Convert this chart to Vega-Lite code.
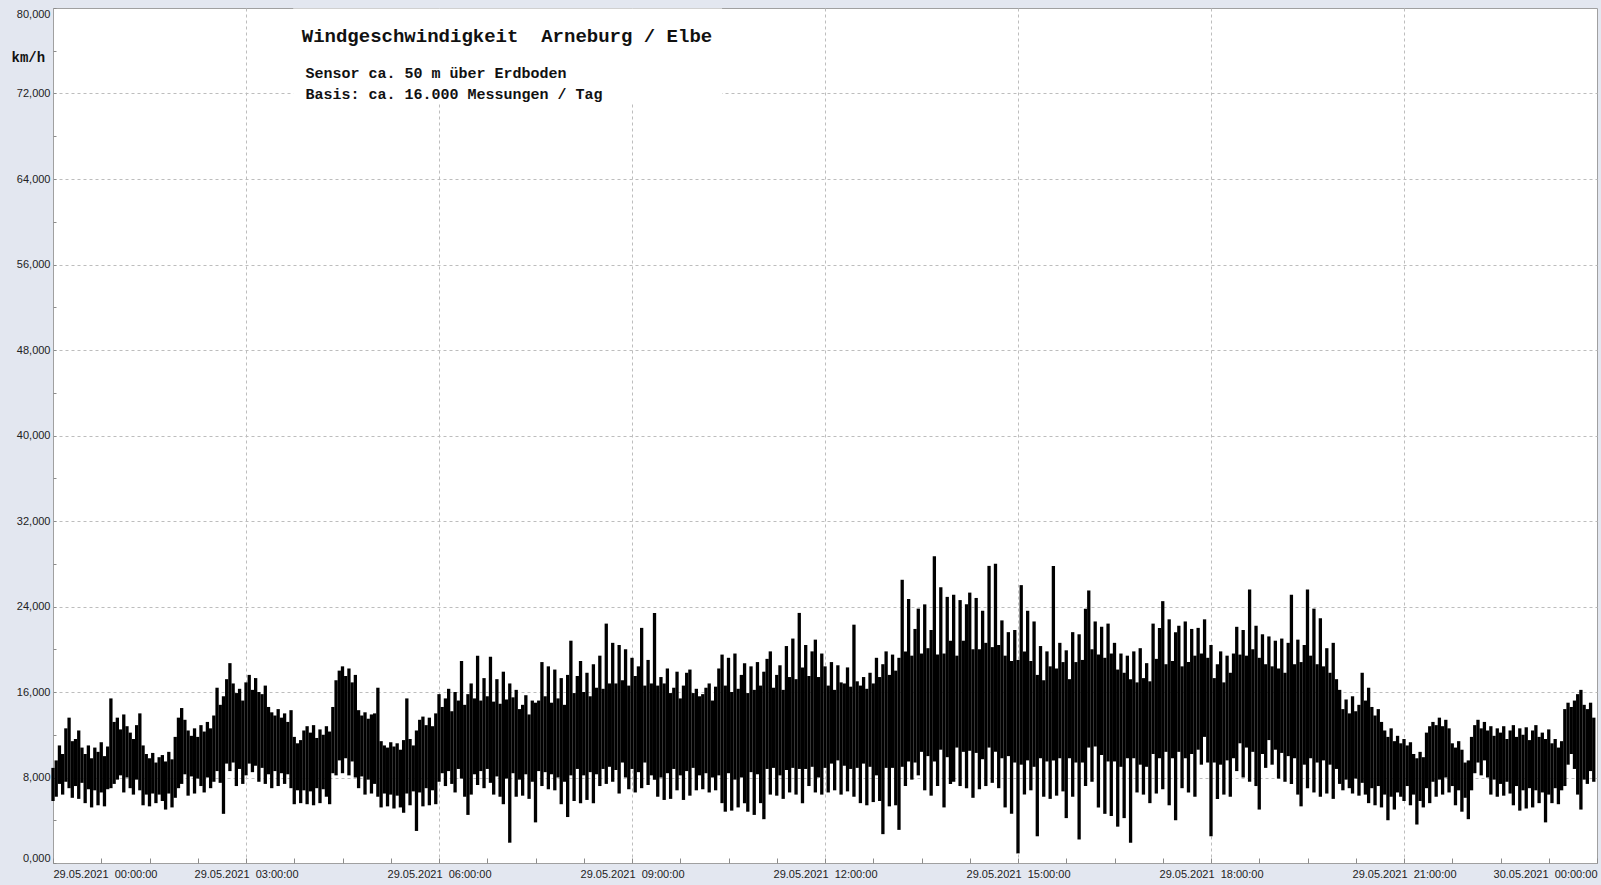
{
"$schema": "https://vega.github.io/schema/vega-lite/v6.json",
"width": 1544, "height": 855,
"autosize": {"type": "none"},
"padding": {"left": 53, "top": 8, "right": 4, "bottom": 22},
"background": "#E3E7F0",
"config": {
  "view": {"fill": "#FFFFFF", "stroke": "#A0A0A0", "strokeWidth": 1},
  "axis": {"labelFont": "Liberation Sans", "labelFontSize": 11, "labelColor": "#222222", "domain": false, "tickColor": "#8C8C8C", "gridColor": "#BDBDBD", "gridDash": [3, 3], "gridWidth": 1}
},
"layer": [
{
  "data": {"values": [
{"m":0,"a":5.8,"b":8.9},{"m":3,"a":6.2,"b":9.6},{"m":6,"a":7.4,"b":11.0},{"m":9,"a":6.4,"b":10.2},{"m":12,"a":7.6,"b":12.6},{"m":15,"a":7.0,"b":13.6},{"m":18,"a":6.1,"b":11.4},{"m":21,"a":7.2,"b":11.6},{"m":24,"a":6.0,"b":12.4},{"m":27,"a":7.5,"b":10.8},
{"m":30,"a":5.6,"b":10.2},{"m":33,"a":6.9,"b":11.0},{"m":36,"a":5.2,"b":9.8},{"m":39,"a":6.8,"b":10.8},{"m":42,"a":5.4,"b":10.4},{"m":45,"a":6.6,"b":11.3},{"m":48,"a":5.3,"b":10.0},{"m":51,"a":6.9,"b":10.9},{"m":54,"a":7.0,"b":15.4},{"m":57,"a":7.4,"b":13.2},
{"m":60,"a":7.8,"b":13.6},{"m":63,"a":8.2,"b":12.5},{"m":66,"a":6.6,"b":13.9},{"m":69,"a":8.0,"b":12.8},{"m":72,"a":7.0,"b":12.2},{"m":75,"a":6.4,"b":11.6},{"m":78,"a":7.8,"b":12.9},{"m":81,"a":6.8,"b":14.0},{"m":84,"a":5.4,"b":11.0},{"m":87,"a":6.4,"b":10.2},
{"m":90,"a":5.3,"b":9.8},{"m":93,"a":6.5,"b":10.3},{"m":96,"a":5.6,"b":9.4},{"m":99,"a":6.4,"b":9.9},{"m":102,"a":5.8,"b":10.1},{"m":105,"a":5.0,"b":9.5},{"m":108,"a":6.5,"b":10.4},{"m":111,"a":5.2,"b":9.7},{"m":114,"a":6.1,"b":11.8},{"m":117,"a":7.0,"b":13.6},
{"m":120,"a":7.4,"b":14.5},{"m":123,"a":8.3,"b":13.4},{"m":126,"a":6.3,"b":12.4},{"m":129,"a":8.1,"b":11.9},{"m":132,"a":6.5,"b":12.6},{"m":135,"a":7.9,"b":11.8},{"m":138,"a":7.2,"b":12.9},{"m":141,"a":6.6,"b":12.3},{"m":144,"a":8.0,"b":13.2},{"m":147,"a":7.0,"b":12.6},
{"m":150,"a":7.6,"b":13.8},{"m":153,"a":8.6,"b":16.4},{"m":156,"a":7.5,"b":14.8},{"m":159,"a":4.6,"b":15.6},{"m":162,"a":9.3,"b":17.2},{"m":165,"a":8.6,"b":18.7},{"m":168,"a":9.4,"b":16.8},{"m":171,"a":7.2,"b":15.9},{"m":174,"a":8.8,"b":16.3},{"m":177,"a":7.4,"b":15.2},
{"m":180,"a":8.2,"b":16.9},{"m":183,"a":9.3,"b":17.6},{"m":186,"a":8.5,"b":16.2},{"m":189,"a":9.1,"b":17.3},{"m":192,"a":7.6,"b":16.0},{"m":195,"a":8.9,"b":15.8},{"m":198,"a":7.4,"b":16.6},{"m":201,"a":8.3,"b":14.6},{"m":204,"a":7.0,"b":14.1},{"m":207,"a":8.6,"b":13.8},
{"m":210,"a":7.2,"b":14.4},{"m":213,"a":8.4,"b":13.6},{"m":216,"a":7.4,"b":14.0},{"m":219,"a":8.3,"b":13.2},{"m":222,"a":7.0,"b":14.3},{"m":225,"a":5.5,"b":11.8},{"m":228,"a":6.8,"b":11.2},{"m":231,"a":5.6,"b":11.5},{"m":234,"a":6.8,"b":12.4},{"m":237,"a":5.5,"b":12.8},
{"m":240,"a":6.7,"b":12.2},{"m":243,"a":5.4,"b":12.9},{"m":246,"a":7.0,"b":11.7},{"m":249,"a":5.6,"b":12.5},{"m":252,"a":6.9,"b":12.0},{"m":255,"a":6.2,"b":12.8},{"m":258,"a":5.5,"b":12.3},{"m":261,"a":8.4,"b":14.6},{"m":264,"a":8.2,"b":17.1},{"m":267,"a":9.6,"b":18.0},
{"m":270,"a":8.4,"b":18.4},{"m":273,"a":9.8,"b":17.5},{"m":276,"a":8.2,"b":18.2},{"m":279,"a":9.5,"b":16.9},{"m":282,"a":8.0,"b":17.6},{"m":285,"a":7.0,"b":14.3},{"m":288,"a":8.1,"b":13.8},{"m":291,"a":6.4,"b":14.1},{"m":294,"a":7.8,"b":13.5},{"m":297,"a":6.5,"b":13.9},
{"m":300,"a":7.4,"b":14.0},{"m":303,"a":6.2,"b":16.4},{"m":306,"a":5.2,"b":11.4},{"m":309,"a":6.5,"b":11.0},{"m":312,"a":5.3,"b":10.8},{"m":315,"a":6.4,"b":11.3},{"m":318,"a":5.1,"b":10.9},{"m":321,"a":6.3,"b":11.2},{"m":324,"a":5.2,"b":10.6},{"m":327,"a":4.7,"b":11.5},
{"m":330,"a":6.5,"b":15.4},{"m":333,"a":5.4,"b":11.6},{"m":336,"a":6.7,"b":11.0},{"m":339,"a":3.0,"b":12.4},{"m":342,"a":6.6,"b":13.4},{"m":345,"a":5.3,"b":13.7},{"m":348,"a":7.0,"b":12.9},{"m":351,"a":5.4,"b":13.6},{"m":354,"a":6.8,"b":12.8},{"m":357,"a":5.5,"b":14.0},
{"m":360,"a":7.6,"b":15.8},{"m":363,"a":8.4,"b":14.6},{"m":366,"a":7.2,"b":15.4},{"m":369,"a":8.6,"b":16.3},{"m":372,"a":7.4,"b":14.2},{"m":375,"a":6.6,"b":16.0},{"m":378,"a":8.8,"b":15.2},{"m":381,"a":7.9,"b":18.9},{"m":384,"a":6.2,"b":14.8},{"m":387,"a":4.5,"b":15.8},
{"m":390,"a":6.4,"b":16.8},{"m":393,"a":8.3,"b":15.4},{"m":396,"a":7.3,"b":19.4},{"m":399,"a":8.6,"b":15.2},{"m":402,"a":7.0,"b":17.3},{"m":405,"a":8.8,"b":15.6},{"m":408,"a":7.5,"b":19.3},{"m":411,"a":6.4,"b":15.1},{"m":414,"a":8.1,"b":17.2},{"m":417,"a":6.2,"b":14.9},
{"m":420,"a":5.5,"b":17.9},{"m":423,"a":7.9,"b":15.3},{"m":426,"a":1.9,"b":16.8},{"m":429,"a":8.4,"b":15.5},{"m":432,"a":6.2,"b":16.2},{"m":435,"a":7.8,"b":14.4},{"m":438,"a":6.3,"b":14.8},{"m":441,"a":8.3,"b":15.7},{"m":444,"a":6.0,"b":13.9},{"m":447,"a":7.6,"b":15.2},
{"m":450,"a":3.8,"b":15.0},{"m":453,"a":8.6,"b":15.2},{"m":456,"a":7.2,"b":18.8},{"m":459,"a":8.5,"b":15.6},{"m":462,"a":6.9,"b":18.4},{"m":465,"a":8.3,"b":15.0},{"m":468,"a":6.8,"b":18.1},{"m":471,"a":8.0,"b":15.4},{"m":474,"a":5.5,"b":17.3},{"m":477,"a":7.6,"b":14.8},
{"m":480,"a":4.3,"b":17.6},{"m":483,"a":8.2,"b":20.8},{"m":486,"a":5.8,"b":15.9},{"m":489,"a":8.8,"b":17.5},{"m":492,"a":5.6,"b":18.9},{"m":495,"a":8.2,"b":16.0},{"m":498,"a":5.9,"b":17.8},{"m":501,"a":8.5,"b":15.6},{"m":504,"a":5.6,"b":18.6},{"m":507,"a":8.3,"b":16.4},
{"m":510,"a":7.2,"b":19.4},{"m":513,"a":8.8,"b":16.3},{"m":516,"a":7.4,"b":22.4},{"m":519,"a":9.0,"b":16.8},{"m":522,"a":7.6,"b":20.6},{"m":525,"a":8.7,"b":16.8},{"m":528,"a":6.5,"b":20.4},{"m":531,"a":9.4,"b":17.1},{"m":534,"a":8.0,"b":20.0},{"m":537,"a":6.9,"b":16.6},
{"m":540,"a":8.8,"b":19.2},{"m":543,"a":6.6,"b":17.5},{"m":546,"a":8.5,"b":18.4},{"m":549,"a":7.0,"b":22.0},{"m":552,"a":9.4,"b":16.6},{"m":555,"a":7.3,"b":19.0},{"m":558,"a":8.2,"b":16.8},{"m":561,"a":7.8,"b":23.4},{"m":564,"a":6.2,"b":16.6},{"m":567,"a":8.0,"b":17.4},
{"m":570,"a":5.9,"b":16.8},{"m":573,"a":8.4,"b":18.2},{"m":576,"a":6.0,"b":15.9},{"m":579,"a":8.8,"b":16.4},{"m":582,"a":6.8,"b":17.9},{"m":585,"a":8.2,"b":15.4},{"m":588,"a":5.9,"b":16.6},{"m":591,"a":8.6,"b":17.8},{"m":594,"a":6.3,"b":18.1},{"m":597,"a":8.9,"b":15.9},
{"m":600,"a":6.8,"b":16.3},{"m":603,"a":8.2,"b":15.6},{"m":606,"a":6.9,"b":15.8},{"m":609,"a":8.4,"b":16.4},{"m":612,"a":6.6,"b":16.8},{"m":615,"a":8.0,"b":15.2},{"m":618,"a":6.8,"b":16.5},{"m":621,"a":8.2,"b":18.2},{"m":624,"a":5.6,"b":19.5},{"m":627,"a":4.8,"b":16.6},
{"m":630,"a":8.4,"b":19.2},{"m":633,"a":4.9,"b":16.0},{"m":636,"a":7.8,"b":19.6},{"m":639,"a":5.2,"b":16.3},{"m":642,"a":8.0,"b":17.6},{"m":645,"a":5.6,"b":18.7},{"m":648,"a":4.8,"b":15.9},{"m":651,"a":8.5,"b":18.4},{"m":654,"a":4.5,"b":16.2},{"m":657,"a":8.3,"b":18.8},
{"m":660,"a":5.6,"b":16.6},{"m":663,"a":4.1,"b":17.9},{"m":666,"a":8.8,"b":19.1},{"m":669,"a":6.4,"b":19.8},{"m":672,"a":8.9,"b":16.4},{"m":675,"a":6.3,"b":17.6},{"m":678,"a":8.2,"b":18.5},{"m":681,"a":6.0,"b":16.2},{"m":684,"a":8.7,"b":20.3},{"m":687,"a":6.6,"b":17.4},
{"m":690,"a":8.9,"b":21.0},{"m":693,"a":6.4,"b":17.2},{"m":696,"a":8.8,"b":23.4},{"m":699,"a":5.6,"b":18.3},{"m":702,"a":8.8,"b":20.4},{"m":705,"a":7.2,"b":17.5},{"m":708,"a":9.0,"b":19.8},{"m":711,"a":6.6,"b":20.9},{"m":714,"a":8.0,"b":17.4},{"m":717,"a":6.4,"b":19.6},
{"m":720,"a":8.9,"b":18.4},{"m":723,"a":6.6,"b":16.6},{"m":726,"a":9.3,"b":18.8},{"m":729,"a":6.8,"b":16.2},{"m":732,"a":9.6,"b":18.5},{"m":735,"a":6.4,"b":16.9},{"m":738,"a":9.1,"b":16.8},{"m":741,"a":6.7,"b":18.3},{"m":744,"a":8.8,"b":16.5},{"m":747,"a":6.2,"b":22.3},
{"m":750,"a":8.9,"b":17.0},{"m":753,"a":5.6,"b":16.6},{"m":756,"a":9.3,"b":17.4},{"m":759,"a":5.4,"b":16.3},{"m":762,"a":9.0,"b":17.8},{"m":765,"a":5.7,"b":16.8},{"m":768,"a":8.2,"b":19.2},{"m":771,"a":5.8,"b":17.4},{"m":774,"a":2.7,"b":18.6},{"m":777,"a":8.9,"b":19.8},
{"m":780,"a":5.3,"b":17.6},{"m":783,"a":8.9,"b":19.5},{"m":786,"a":5.4,"b":18.0},{"m":789,"a":3.1,"b":19.2},{"m":792,"a":9.0,"b":26.5},{"m":795,"a":7.2,"b":19.8},{"m":798,"a":9.5,"b":24.7},{"m":801,"a":7.8,"b":19.4},{"m":804,"a":9.4,"b":21.9},{"m":807,"a":8.2,"b":23.8},
{"m":810,"a":10.4,"b":19.6},{"m":813,"a":6.8,"b":24.2},{"m":816,"a":10.0,"b":20.1},{"m":819,"a":6.3,"b":21.8},{"m":822,"a":9.5,"b":28.7},{"m":825,"a":7.2,"b":19.5},{"m":828,"a":10.6,"b":25.8},{"m":831,"a":5.2,"b":19.6},{"m":834,"a":9.9,"b":24.9},{"m":837,"a":7.4,"b":20.8},
{"m":840,"a":7.6,"b":25.1},{"m":843,"a":10.8,"b":19.4},{"m":846,"a":7.2,"b":24.6},{"m":849,"a":10.4,"b":20.8},{"m":852,"a":7.0,"b":24.2},{"m":855,"a":10.5,"b":25.3},{"m":858,"a":6.1,"b":20.0},{"m":861,"a":10.3,"b":24.8},{"m":864,"a":6.9,"b":20.0},{"m":867,"a":9.7,"b":23.6},
{"m":870,"a":7.2,"b":20.6},{"m":873,"a":10.8,"b":27.8},{"m":876,"a":7.5,"b":20.2},{"m":879,"a":10.4,"b":28.0},{"m":882,"a":7.0,"b":20.4},{"m":885,"a":9.8,"b":22.7},{"m":888,"a":5.2,"b":19.4},{"m":891,"a":10.0,"b":21.6},{"m":894,"a":4.6,"b":18.9},{"m":897,"a":9.4,"b":21.8},
{"m":900,"a":0.9,"b":19.0},{"m":903,"a":9.2,"b":26.0},{"m":906,"a":6.4,"b":19.8},{"m":909,"a":9.6,"b":23.6},{"m":912,"a":6.8,"b":18.9},{"m":915,"a":9.0,"b":22.6},{"m":918,"a":2.5,"b":17.6},{"m":921,"a":9.8,"b":20.3},{"m":924,"a":6.2,"b":17.1},{"m":927,"a":9.5,"b":19.8},
{"m":930,"a":6.0,"b":18.4},{"m":933,"a":9.6,"b":27.8},{"m":936,"a":6.3,"b":18.2},{"m":939,"a":9.8,"b":20.6},{"m":942,"a":6.7,"b":18.8},{"m":945,"a":4.2,"b":19.9},{"m":948,"a":9.8,"b":17.2},{"m":951,"a":6.2,"b":21.6},{"m":954,"a":9.4,"b":18.8},{"m":957,"a":2.2,"b":21.4},
{"m":960,"a":9.4,"b":19.0},{"m":963,"a":7.2,"b":23.8},{"m":966,"a":10.8,"b":25.5},{"m":969,"a":7.6,"b":20.0},{"m":972,"a":10.9,"b":22.6},{"m":975,"a":5.2,"b":19.5},{"m":978,"a":10.1,"b":22.1},{"m":981,"a":4.6,"b":19.2},{"m":984,"a":9.5,"b":22.4},{"m":987,"a":4.4,"b":19.6},
{"m":990,"a":9.5,"b":20.6},{"m":993,"a":3.4,"b":18.1},{"m":996,"a":9.0,"b":19.6},{"m":999,"a":4.2,"b":17.8},{"m":1002,"a":9.8,"b":19.4},{"m":1005,"a":1.9,"b":17.2},{"m":1008,"a":9.8,"b":19.8},{"m":1011,"a":6.6,"b":16.9},{"m":1014,"a":9.2,"b":20.1},{"m":1017,"a":6.4,"b":17.3},
{"m":1020,"a":9.0,"b":18.7},{"m":1023,"a":5.6,"b":17.0},{"m":1026,"a":10.2,"b":22.4},{"m":1029,"a":6.5,"b":19.1},{"m":1032,"a":9.8,"b":22.0},{"m":1035,"a":6.9,"b":24.5},{"m":1038,"a":10.4,"b":18.6},{"m":1041,"a":5.4,"b":22.8},{"m":1044,"a":9.8,"b":18.9},{"m":1047,"a":4.0,"b":21.6},
{"m":1050,"a":10.4,"b":22.2},{"m":1053,"a":7.0,"b":18.4},{"m":1056,"a":9.8,"b":22.6},{"m":1059,"a":6.6,"b":18.8},{"m":1062,"a":10.2,"b":21.9},{"m":1065,"a":6.2,"b":19.4},{"m":1068,"a":10.6,"b":22.0},{"m":1071,"a":9.2,"b":19.6},{"m":1074,"a":11.8,"b":22.8},{"m":1077,"a":9.4,"b":19.2},
{"m":1080,"a":2.5,"b":20.4},{"m":1083,"a":9.4,"b":17.3},{"m":1086,"a":6.0,"b":18.6},{"m":1089,"a":9.2,"b":19.8},{"m":1092,"a":6.4,"b":16.9},{"m":1095,"a":9.6,"b":19.4},{"m":1098,"a":6.2,"b":17.8},{"m":1101,"a":9.8,"b":19.6},{"m":1104,"a":8.6,"b":22.1},{"m":1107,"a":11.2,"b":19.5},
{"m":1110,"a":8.0,"b":21.8},{"m":1113,"a":10.8,"b":19.4},{"m":1116,"a":7.6,"b":25.6},{"m":1119,"a":10.4,"b":20.0},{"m":1122,"a":7.2,"b":22.2},{"m":1125,"a":5.0,"b":19.2},{"m":1128,"a":10.2,"b":21.4},{"m":1131,"a":8.9,"b":18.6},{"m":1134,"a":11.5,"b":21.2},{"m":1137,"a":9.2,"b":18.4},
{"m":1140,"a":10.6,"b":20.8},{"m":1143,"a":7.9,"b":18.2},{"m":1146,"a":10.3,"b":21.0},{"m":1149,"a":7.6,"b":17.8},{"m":1152,"a":10.0,"b":20.6},{"m":1155,"a":7.4,"b":25.1},{"m":1158,"a":9.8,"b":18.6},{"m":1161,"a":6.4,"b":20.9},{"m":1164,"a":5.3,"b":18.8},{"m":1167,"a":9.2,"b":20.4},
{"m":1170,"a":7.0,"b":25.6},{"m":1173,"a":9.8,"b":19.4},{"m":1176,"a":6.6,"b":23.8},{"m":1179,"a":9.4,"b":18.6},{"m":1182,"a":6.2,"b":22.9},{"m":1185,"a":9.6,"b":18.4},{"m":1188,"a":6.5,"b":20.1},{"m":1191,"a":9.2,"b":17.8},{"m":1194,"a":6.0,"b":20.6},{"m":1197,"a":8.8,"b":17.2},
{"m":1200,"a":7.4,"b":16.2},{"m":1203,"a":6.8,"b":14.4},{"m":1206,"a":7.8,"b":15.3},{"m":1209,"a":7.0,"b":14.0},{"m":1212,"a":6.5,"b":15.6},{"m":1215,"a":7.9,"b":14.2},{"m":1218,"a":6.3,"b":14.8},{"m":1221,"a":7.5,"b":17.8},{"m":1224,"a":6.4,"b":15.2},{"m":1227,"a":5.6,"b":16.4},
{"m":1230,"a":7.0,"b":14.6},{"m":1233,"a":5.4,"b":13.8},{"m":1236,"a":7.2,"b":14.4},{"m":1239,"a":5.2,"b":13.2},{"m":1242,"a":6.4,"b":12.4},{"m":1245,"a":4.0,"b":11.8},{"m":1248,"a":6.2,"b":12.6},{"m":1251,"a":5.0,"b":11.4},{"m":1254,"a":6.6,"b":11.9},{"m":1257,"a":6.2,"b":11.2},
{"m":1260,"a":5.8,"b":11.6},{"m":1263,"a":7.2,"b":11.0},{"m":1266,"a":5.4,"b":11.3},{"m":1269,"a":6.4,"b":10.2},{"m":1272,"a":3.6,"b":9.8},{"m":1275,"a":5.8,"b":10.4},{"m":1278,"a":5.2,"b":9.9},{"m":1281,"a":7.0,"b":12.2},{"m":1284,"a":5.6,"b":12.8},{"m":1287,"a":7.6,"b":13.2},
{"m":1290,"a":6.2,"b":12.9},{"m":1293,"a":7.8,"b":13.6},{"m":1296,"a":6.4,"b":12.8},{"m":1299,"a":8.0,"b":13.4},{"m":1302,"a":6.6,"b":12.6},{"m":1305,"a":7.2,"b":11.2},{"m":1308,"a":5.4,"b":10.8},{"m":1311,"a":6.8,"b":11.4},{"m":1314,"a":4.8,"b":10.6},{"m":1317,"a":6.1,"b":9.4},
{"m":1320,"a":4.1,"b":9.6},{"m":1323,"a":6.8,"b":11.8},{"m":1326,"a":8.4,"b":12.9},{"m":1329,"a":9.4,"b":13.4},{"m":1332,"a":8.2,"b":12.6},{"m":1335,"a":9.6,"b":13.2},{"m":1338,"a":8.0,"b":12.4},{"m":1341,"a":6.4,"b":12.8},{"m":1344,"a":7.8,"b":11.9},{"m":1347,"a":6.2,"b":12.6},
{"m":1350,"a":7.4,"b":12.2},{"m":1353,"a":6.3,"b":12.8},{"m":1356,"a":7.6,"b":11.6},{"m":1359,"a":6.5,"b":12.4},{"m":1362,"a":5.4,"b":12.9},{"m":1365,"a":7.2,"b":11.8},{"m":1368,"a":4.9,"b":12.6},{"m":1371,"a":6.8,"b":12.0},{"m":1374,"a":5.1,"b":12.7},{"m":1377,"a":7.0,"b":11.5},
{"m":1380,"a":5.2,"b":12.4},{"m":1383,"a":6.8,"b":12.9},{"m":1386,"a":5.6,"b":11.8},{"m":1389,"a":6.6,"b":12.2},{"m":1392,"a":3.8,"b":11.6},{"m":1395,"a":6.4,"b":12.5},{"m":1398,"a":5.6,"b":11.2},{"m":1401,"a":7.0,"b":11.6},{"m":1404,"a":5.5,"b":10.8},{"m":1407,"a":6.8,"b":11.4},
{"m":1410,"a":7.2,"b":14.4},{"m":1413,"a":9.2,"b":15.0},{"m":1416,"a":10.2,"b":14.6},{"m":1419,"a":8.8,"b":15.2},{"m":1422,"a":6.4,"b":15.8},{"m":1425,"a":5.0,"b":16.2},{"m":1428,"a":7.8,"b":14.8},{"m":1431,"a":7.4,"b":14.4},{"m":1434,"a":8.6,"b":15.0},{"m":1437,"a":7.6,"b":13.6}
  ]},
  "mark": {"type": "rule", "color": "#000000", "strokeWidth": 3.3},
  "encoding": {
    "x": {"field": "m", "type": "quantitative",
      "scale": {"domain": [0, 1440], "nice": false, "zero": false},
      "axis": {"title": null, "orient": "bottom",
        "values": [0,45,90,135,180,225,270,315,360,405,450,495,540,585,630,675,720,765,810,855,900,945,990,1035,1080,1125,1170,1215,1260,1305,1350,1395,1440],
        "grid": true,
        "gridOpacity": {"condition": {"test": "datum.value % 180 === 0 && datum.value > 0 && datum.value < 1440", "value": 1}, "value": 0},
        "tickSize": -5, "labelPadding": 10, "labelFlush": true, "labelOverlap": false,
        "labelExpr": "datum.value % 180 === 0 ? (datum.value === 1440 ? '30.05.2021\u00a0 00:00:00' : '29.05.2021\u00a0 ' + (datum.value < 600 ? '0' : '') + (datum.value / 60) + ':00:00') : ''"}},
    "y": {"field": "a", "type": "quantitative",
      "scale": {"domain": [0, 80], "nice": false, "zero": true},
      "axis": {"title": "km/h", "orient": "left",
        "values": [0,2,4,6,8,10,12,14,16,18,20,22,24,26,28,30,32,34,36,38,40,42,44,46,48,50,52,54,56,58,60,62,64,66,68,70,72,74,76,78,80],
        "grid": true,
        "gridOpacity": {"condition": {"test": "datum.value % 8 === 0 && datum.value > 0 && datum.value < 80", "value": 1}, "value": 0},
        "tickSize": -3, "labelPadding": 6, "labelFlush": true, "labelOverlap": false,
        "labelExpr": "datum.value % 8 === 0 ? replace(format(datum.value, '.3f'), '.', ',') : ''",
        "titleAngle": 0, "titleFont": "Liberation Mono", "titleFontWeight": "bold", "titleFontSize": 14, "titleColor": "#111111",
        "titleX": -42, "titleY": 53, "titleAlign": "left", "titleBaseline": "alphabetic"}},
    "y2": {"field": "b"}
  }
},
{
  "data": {"values": [{}]},
  "mark": {"type": "rect", "color": "#FFFFFF"},
  "encoding": {"x": {"datum": 224}, "x2": {"datum": 624}, "y": {"datum": 71.1}, "y2": {"datum": 79.95}}
},
{
  "data": {"values": [{}]},
  "mark": {"type": "text", "text": "Windgeschwindigkeit\u00a0 Arneburg / Elbe", "font": "Liberation Mono", "fontWeight": "bold", "fontSize": 19, "color": "#111111", "align": "left", "baseline": "alphabetic"},
  "encoding": {"x": {"datum": 232}, "y": {"datum": 76.82}}
},
{
  "data": {"values": [{}]},
  "mark": {"type": "text", "text": ["Sensor ca. 50 m über Erdboden", "Basis: ca. 16.000 Messungen / Tag"], "lineHeight": 21, "font": "Liberation Mono", "fontWeight": "bold", "fontSize": 15, "color": "#111111", "align": "left", "baseline": "alphabetic"},
  "encoding": {"x": {"datum": 235.5}, "y": {"datum": 73.45}}
}
]
}
